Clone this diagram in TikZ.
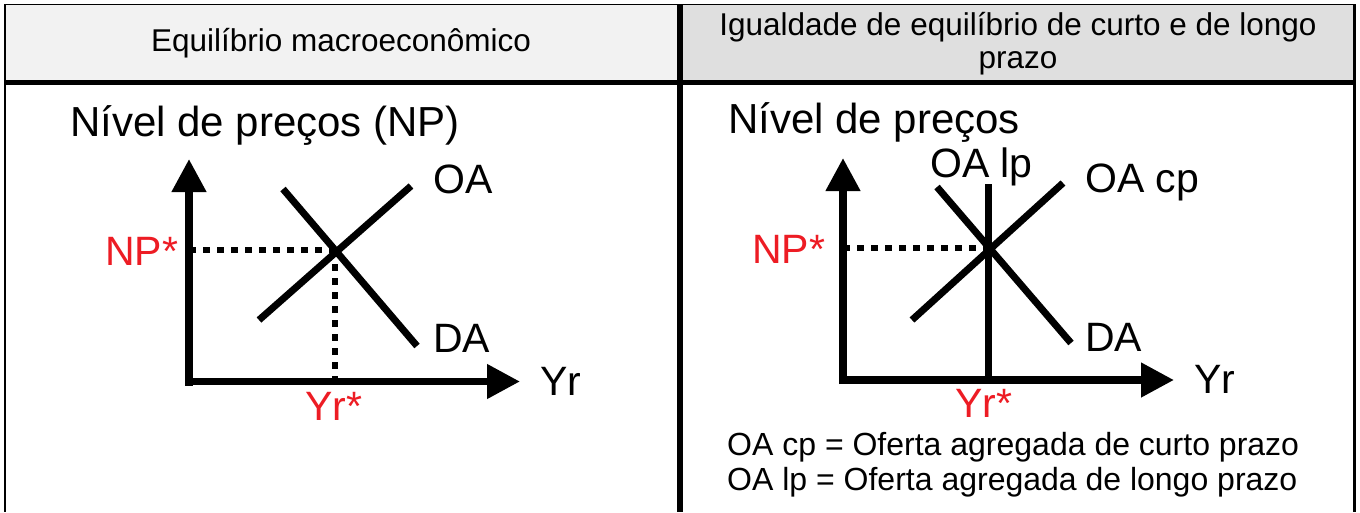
\documentclass[tikz,border=0pt]{standalone}
\usepackage{fontspec}
\setmainfont{Liberation Sans}
\usetikzlibrary{arrows.meta}
\definecolor{npred}{RGB}{237,28,36}
\definecolor{hdrL}{RGB}{242,242,242}
\definecolor{hdrR}{RGB}{223,223,223}
\begin{document}
\begin{tikzpicture}[x=1pt,y=-1pt,
  lbl/.style={inner sep=0pt,font=\fontsize{41}{48}\selectfont},
  redlbl/.style={lbl,text=npred},
  ttl/.style={inner sep=0pt,font=\fontsize{42}{48}\selectfont,anchor=base west},
  hdr/.style={inner sep=0pt,font=\fontsize{31.5}{33}\selectfont,align=center},
  note/.style={inner sep=0pt,font=\fontsize{32}{35}\selectfont,anchor=base west},
  axis/.style={line width=7.5pt,-{Triangle[length=33pt,width=33pt]}},
  curve/.style={line width=7pt},
  dots/.style={line width=6pt,dash pattern=on 6.5pt off 7.5pt}
]
\useasboundingbox (0,0) rectangle (1360,512);
% table
\fill[hdrL] (5,4.5) rectangle (680,82);
\fill[hdrR] (680,4.5) rectangle (1354.5,82);
\draw[line width=1.5pt] (4,4.5) -- (1356,4.5);
\draw[line width=2pt] (5,4) -- (5,512);
\draw[line width=3pt] (1354.5,4) -- (1354.5,512);
\draw[line width=5pt] (4,82) -- (1356,82);
\draw[line width=6pt] (680,4) -- (680,512);
\node[hdr] (h1) at (341,43) {Equilíbrio macroeconômico};
\node[hdr] (h2) at (1018,44) {Igualdade de equilíbrio de curto e de longo\\prazo};

% ---------- left graph ----------
\node[ttl] (t1) at (70,136) {Nível de preços (NP)};
\coordinate (yb1) at (189,385.5);
\coordinate (yt1) at (189,159);
\coordinate (xl1) at (185,381.5);
\coordinate (xr1) at (520,381.5);
\coordinate (e1) at (335,250);
\coordinate (ea1) at (189,250);
\coordinate (eb1) at (335,381.5);
\coordinate (oaS1) at (259,320);
\coordinate (oaE1) at (411,186);
\coordinate (daS1) at (283,189);
\coordinate (daE1) at (417,346);
\draw[dots] (ea1) -- (e1);
\draw[dots] (e1) -- (eb1);
\draw[axis] (yb1) -- (yt1);
\draw[axis] (xl1) -- (xr1);
\draw[curve] (oaS1) -- (oaE1);
\draw[curve] (daS1) -- (daE1);
\node[lbl,anchor=base west] (oa1) at (433,193) {OA};
\node[lbl,anchor=base west] (da1) at (433,352) {DA};
\node[lbl,anchor=base west] (yr1) at (540,395) {Yr};
\node[redlbl,anchor=base west] (np1) at (105,265) {NP*};
\node[redlbl,anchor=base] (ys1) at (334,420) {Yr*};

% ---------- right graph ----------
\node[ttl] (t2) at (728,133) {Nível de preços};
\coordinate (yb2) at (843,384);
\coordinate (yt2) at (843,158);
\coordinate (xl2) at (839,380);
\coordinate (xr2) at (1174,380);
\coordinate (e2) at (988,248);
\coordinate (ea2) at (843,248);
\coordinate (lpT) at (988,184);
\coordinate (lpB) at (988,380);
\coordinate (oaS2) at (912,320);
\coordinate (oaE2) at (1063,183);
\coordinate (daS2) at (937,187);
\coordinate (daE2) at (1071,343);
\draw[dots] (ea2) -- (e2);
\draw[axis] (yb2) -- (yt2);
\draw[axis] (xl2) -- (xr2);
\draw[curve] (lpT) -- (lpB);
\draw[curve] (oaS2) -- (oaE2);
\draw[curve] (daS2) -- (daE2);
\node[lbl,anchor=base west] (lp2) at (930,177) {OA lp};
\node[lbl,anchor=base west] (cp2) at (1085,192) {OA cp};
\node[lbl,anchor=base west] (da2) at (1085,351) {DA};
\node[lbl,anchor=base west] (yr2) at (1194,393) {Yr};
\node[redlbl,anchor=base west] (np2) at (752,263) {NP*};
\node[redlbl,anchor=base] (ys2) at (984,417) {Yr*};

\node[note] (n1) at (727,455) {OA cp = Oferta agregada de curto prazo};
\node[note] (n2) at (727,490) {OA lp = Oferta agregada de longo prazo};
\end{tikzpicture}
\end{document}
